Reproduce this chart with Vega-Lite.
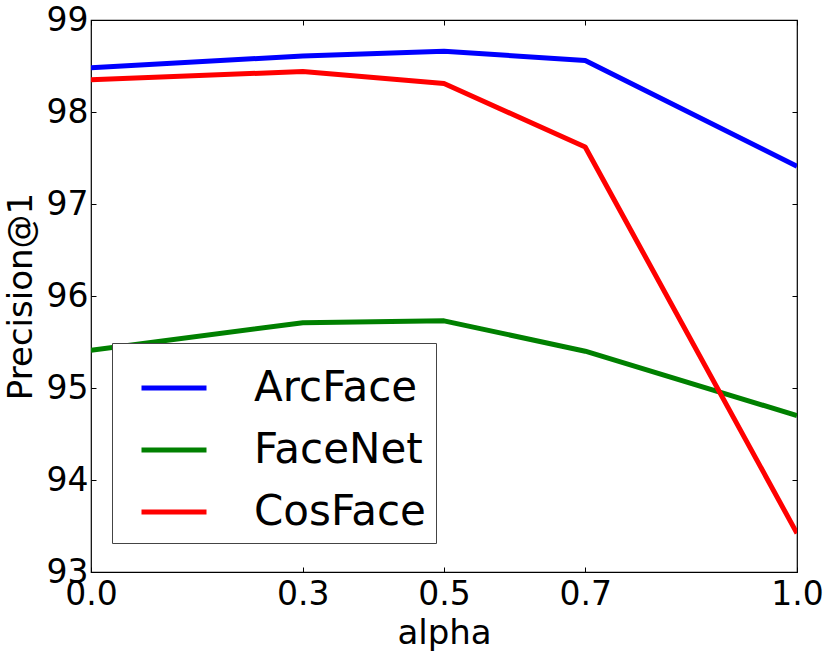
{
  "$schema": "https://vega.github.io/schema/vega-lite/v6.json",
  "autosize": "none",
  "padding": {"left": 91, "top": 20, "right": 34, "bottom": 83},
  "width": 706,
  "height": 552,
  "background": "white",
  "config": {
    "view": {"stroke": "black", "strokeWidth": 1.2},
    "font": "DejaVu Sans",
    "axis": {
      "domain": false,
      "grid": false,
      "labelFlush": false,
      "tickColor": "black",
      "tickWidth": 1,
      "tickSize": -5,
      "labelFont": "DejaVu Sans",
      "labelFontSize": 33,
      "labelColor": "black",
      "titleFont": "DejaVu Sans",
      "titleFontSize": 34,
      "titleFontWeight": "normal",
      "titleColor": "black"
    }
  },
  "data": {
    "values": [
      {"alpha": 0.0, "model": "ArcFace", "p1": 98.48},
      {"alpha": 0.3, "model": "ArcFace", "p1": 98.61},
      {"alpha": 0.5, "model": "ArcFace", "p1": 98.66},
      {"alpha": 0.7, "model": "ArcFace", "p1": 98.56},
      {"alpha": 1.0, "model": "ArcFace", "p1": 97.41},
      {"alpha": 0.0, "model": "FaceNet", "p1": 95.41},
      {"alpha": 0.3, "model": "FaceNet", "p1": 95.71},
      {"alpha": 0.5, "model": "FaceNet", "p1": 95.73},
      {"alpha": 0.7, "model": "FaceNet", "p1": 95.40},
      {"alpha": 1.0, "model": "FaceNet", "p1": 94.70},
      {"alpha": 0.0, "model": "CosFace", "p1": 98.35},
      {"alpha": 0.3, "model": "CosFace", "p1": 98.44},
      {"alpha": 0.5, "model": "CosFace", "p1": 98.31},
      {"alpha": 0.7, "model": "CosFace", "p1": 97.62},
      {"alpha": 1.0, "model": "CosFace", "p1": 93.42}
    ]
  },
  "layer": [
    {
      "mark": {"type": "line", "strokeWidth": 5, "strokeJoin": "round", "clip": true},
      "encoding": {
        "x": {
          "field": "alpha",
          "type": "quantitative",
          "scale": {"domain": [0, 1], "nice": false, "zero": false},
          "axis": {
            "orient": "bottom",
            "values": [0, 0.3, 0.5, 0.7, 1.0],
            "format": ".1f",
            "labelPadding": 11,
            "title": "alpha",
            "titlePadding": 5
          }
        },
        "y": {
          "field": "p1",
          "type": "quantitative",
          "scale": {"domain": [93, 99], "nice": false, "zero": false},
          "axis": {
            "orient": "left",
            "values": [93, 94, 95, 96, 97, 98, 99],
            "format": "d",
            "labelPadding": 8,
            "title": "Precision@1",
            "titlePadding": 8
          }
        },
        "color": {
          "field": "model",
          "type": "nominal",
          "scale": {
            "domain": ["ArcFace", "FaceNet", "CosFace"],
            "range": ["#0000ff", "#008000", "#ff0000"]
          },
          "legend": {
            "orient": "none",
            "legendX": 21,
            "legendY": 323,
            "title": null,
            "symbolType": "stroke",
            "symbolSize": 4225,
            "symbolStrokeWidth": 5,
            "symbolOffset": 17,
            "labelFont": "DejaVu Sans",
            "labelFontSize": 42,
            "labelColor": "black",
            "labelOffset": 45,
            "labelLimit": 400,
            "rowPadding": 6,
            "padding": 10,
            "strokeColor": "#444444",
            "fillColor": "white"
          }
        }
      }
    },
    {
      "mark": {"type": "line", "opacity": 0},
      "encoding": {
        "x": {
          "field": "alpha",
          "type": "quantitative",
          "scale": {"domain": [0, 1], "nice": false, "zero": false},
          "axis": {"orient": "top", "values": [0, 0.3, 0.5, 0.7, 1.0], "labels": false, "title": null}
        },
        "y": {
          "field": "p1",
          "type": "quantitative",
          "scale": {"domain": [93, 99], "nice": false, "zero": false},
          "axis": {"orient": "right", "values": [93, 94, 95, 96, 97, 98, 99], "labels": false, "title": null}
        }
      }
    }
  ],
  "resolve": {"axis": {"x": "independent", "y": "independent"}}
}
